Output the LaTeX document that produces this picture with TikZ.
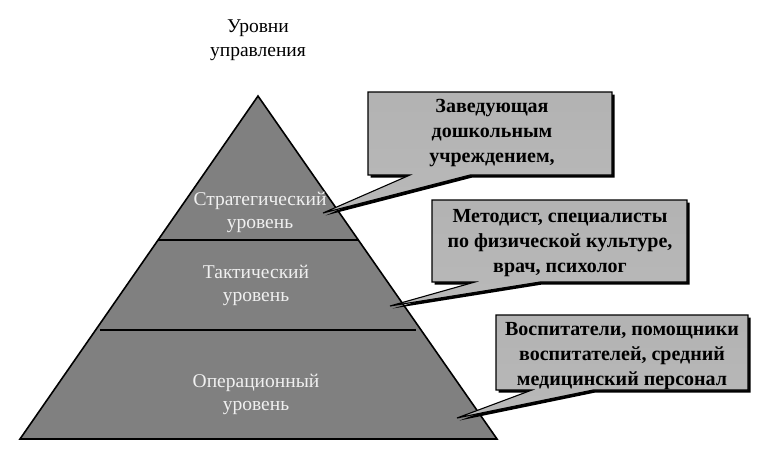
\documentclass[tikz,border=0pt]{standalone}
\usepackage{fontspec}
\setmainfont{Liberation Serif}
\usetikzlibrary{shadows}
\definecolor{pyrgray}{RGB}{128,128,128}
\tikzset{
    level/.style={fill=pyrgray, draw=black, line width=1.6pt, line join=miter},
    divider/.style={draw=black, line width=1.6pt},
    levellabel/.style={text=white!94!black, align=center, font=\fontsize{19.5}{23}\selectfont},
    heading/.style={align=center, font=\fontsize{19.5}{24}\selectfont},
    balloon/.style={draw=black, line width=1.1pt, top color=gray!60, middle color=white, bottom color=gray!55,
        drop shadow={shadow xshift=2.5pt, shadow yshift=-2.5pt, opacity=1, fill=black}},
    balloontext/.style={align=center, font=\bfseries\fontsize{20}{25}\selectfont},
}

\begin{document}
\begin{tikzpicture}[x=1pt, y=-1pt]
    \useasboundingbox (0,0) rectangle (768,458);

    % pyramid
    \coordinate (apex) at (258,96);
    \coordinate (baseL) at (20,439);
    \coordinate (baseR) at (497,439);
    \path[level] (apex) -- (baseR) -- (baseL) -- cycle;
    \draw[divider] (158,240) -- (358,240);
    \draw[divider] (100,330) -- (416,330);

    \node[heading] (levels) at (258,40) {Уровни\\управления};
    \node[levellabel] (strat) at (260,212) {Стратегический\\уровень};
    \node[levellabel] (tact) at (256,285) {Тактический\\уровень};
    \node[levellabel] (oper) at (256,394) {Операционный\\уровень};

    % callouts
    \coordinate (tipS) at (323,213);
    \coordinate (tipT) at (390,306);
    \coordinate (tipO) at (457,418);
    \path[balloon] (368,92) -- (612,92) -- (612,175) -- (470,175) -- (tipS) -- (410,175) -- (368,175) -- cycle;
    \path[balloon] (432,200) -- (687,200) -- (687,282) -- (540,282) -- (tipT) -- (475,282) -- (432,282) -- cycle;
    \path[balloon] (496,315) -- (748,315) -- (748,390) -- (593,390) -- (tipO) -- (532,390) -- (496,390) -- cycle;

    \node[balloontext] (head) at (492,133) {Заведующая\\дошкольным\\учреждением,};
    \node[balloontext] (staff) at (560,243) {Методист, специалисты\\по физической культуре,\\врач, психолог};
    \node[balloontext] (carers) at (622,356) {Воспитатели, помощники\\воспитателей, средний\\медицинский персонал};
\end{tikzpicture}
\end{document}
